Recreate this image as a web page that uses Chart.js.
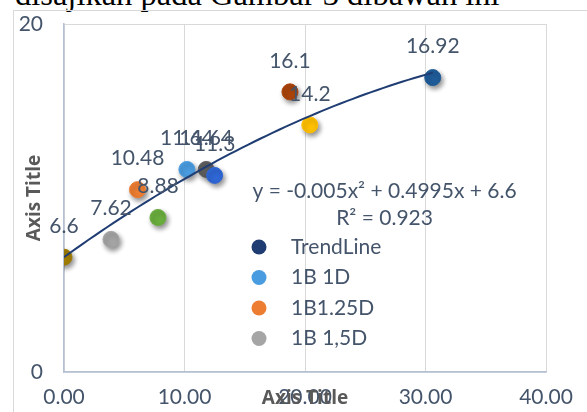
<!DOCTYPE html>
<html>
<head>
<meta charset="utf-8">
<script src="https://cdn.jsdelivr.net/npm/chart.js@4.4.1/dist/chart.umd.min.js"></script>
<style>
  html, body { margin: 0; padding: 0; background: #fff; width: 587px; height: 412px; overflow: hidden; }
  #wrap { position: relative; width: 587px; height: 412px; overflow: hidden; }
  #caption { position: absolute; left: 15px; top: -24px; font-family: "Liberation Serif", serif; font-size: 32.5px; line-height: 36px; color: #000; white-space: nowrap; }
  #frame { position: absolute; left: 13px; top: 10px; width: 700px; height: 500px; border-left: 1px solid #D9D9D9; border-top: 1px solid #D9D9D9; box-sizing: border-box; }
  canvas { position: absolute; left: 0; top: 0; }
</style>
</head>
<body>
<div id="wrap">
  <div id="caption">disajikan pada Gambar 3 dibawah ini</div>
  <div id="frame"></div>
  <canvas id="c" width="587" height="412"></canvas>
</div>
<script>
// Measured points (x, y) and their marker colours
const xValues = [0, 3.9, 6.1, 7.8, 10.2, 11.8, 12.5, 18.75, 20.4, 30.6];
const yValues = [6.6, 7.62, 10.48, 8.88, 11.64, 11.64, 11.3, 16.1, 14.2, 16.92];
const pointColors = ['#A07C00', '#A5A5A5', '#ED7D31', '#6AAE3E', '#4A9CE0', '#5E5E5E', '#2F67D6', '#A9430A', '#FFC000', '#1F5C99'];

// Polynomial trendline: y = a x^2 + b x + c
const trendCoef = [-0.005, 0.4995, 6.6];
const trendRange = [0, 30.6];
const trendText = ['y = -0.005x\u00B2 + 0.4995x + 6.6', 'R\u00B2 = 0.923'];

// Legend entries
const legendNames = ['TrendLine', '1B 1D', '1B1.25D', '1B 1,5D'];
const legendColors = ['#1F3D73', '#4A9CE0', '#ED7D31', '#A5A5A5'];

// Axes
const xTicks = [0, 10, 20, 30, 40];
const yTicks = [0, 20];
const xTitle = 'Axis Title';
const yTitle = 'Axis Title';

const FONT = 'Lato, "Open Sans", sans-serif';
const TITLE_FONT = '"Open Sans", "Noto Sans", sans-serif';
const TEXT = '#44546A';

const scatterPoints = xValues.map((x, i) => ({ x, y: yValues[i] }));

// Trendline drawn from the fitted equation
const trendPoints = [];
for (let k = 0; k <= 60; k++) {
  const x = trendRange[0] + (trendRange[1] - trendRange[0]) * k / 60;
  trendPoints.push({ x, y: trendCoef[0] * x * x + trendCoef[1] * x + trendCoef[2] });
}

const shadowPlugin = {
  id: 'markerShadow',
  beforeDatasetDraw(chart, args) {
    if (args.index !== 1) return;
    const ctx = chart.ctx;
    ctx.save();
    ctx.shadowColor = 'rgba(0,0,0,0.45)';
    ctx.shadowBlur = 5;
    ctx.shadowOffsetX = 2;
    ctx.shadowOffsetY = 3;
  },
  afterDatasetDraw(chart, args) {
    if (args.index !== 1) return;
    chart.ctx.restore();
  }
};

const overlayPlugin = {
  id: 'overlay',
  afterDatasetsDraw(chart) {
    const ctx = chart.ctx;
    const area = chart.chartArea;
    const meta = chart.getDatasetMeta(1);
    ctx.save();
    ctx.font = '21px ' + FONT;
    ctx.fillStyle = TEXT;
    ctx.textAlign = 'center';
    ctx.textBaseline = 'middle';
    // value labels above each marker
    meta.data.forEach((pt, i) => {
      ctx.fillText(String(yValues[i]), pt.x, pt.y - 31);
    });
    // trendline equation
    const cx = area.left + (area.right - area.left) * 0.665;
    ctx.fillText(trendText[0], cx, area.top + 167);
    ctx.fillText(trendText[1], cx, area.top + 194);
    // legend
    legendNames.forEach((name, i) => {
      const y = area.top + 223 + i * 30.5;
      ctx.beginPath();
      ctx.arc(area.left + 195, y, 7.5, 0, Math.PI * 2);
      ctx.fillStyle = legendColors[i];
      ctx.fill();
      ctx.fillStyle = TEXT;
      ctx.textAlign = 'left';
      ctx.fillText(name, area.left + 227, y);
    });
    // axis titles
    ctx.font = 'bold 19px ' + TITLE_FONT;
    ctx.fillStyle = '#595959';
    ctx.textAlign = 'center';
    ctx.fillText(xTitle, (area.left + area.right) / 2, area.bottom + 27);
    ctx.translate(35, (area.top + area.bottom) / 2);
    ctx.rotate(-Math.PI / 2);
    ctx.fillText(yTitle, 0, 0);
    ctx.restore();
  }
};

new Chart(document.getElementById('c'), {
  data: {
    datasets: [
      {
        type: 'line',
        label: legendNames[0],
        data: trendPoints,
        borderColor: '#1F3D73',
        borderWidth: 2,
        pointRadius: 0,
        fill: false,
        tension: 0,
        order: 0
      },
      {
        type: 'scatter',
        label: 'points',
        data: scatterPoints,
        backgroundColor: pointColors,
        borderColor: pointColors,
        borderWidth: 1,
        pointRadius: 8,
        order: 1
      }
    ]
  },
  options: {
    responsive: false,
    animation: false,
    devicePixelRatio: 1,
    layout: { padding: { top: 24, right: 41, left: 0, bottom: 0 } },
    plugins: { legend: { display: false }, tooltip: { enabled: false } },
    scales: {
      x: {
        type: 'linear',
        min: xTicks[0],
        max: xTicks[xTicks.length - 1],
        afterBuildTicks(scale) { scale.ticks = xTicks.map(v => ({ value: v })); },
        afterFit(scale) { scale.height = 40; scale.paddingLeft = 0; scale.paddingRight = 0; },
        ticks: {
          padding: 13,
          color: TEXT,
          font: { family: FONT, size: 21 },
          callback: v => Number(v).toFixed(2),
          maxRotation: 0
        },
        grid: { color: '#D9D9D9', lineWidth: 1, drawTicks: false },
        border: { color: '#B4C0D4', width: 1.5 }
      },
      y: {
        type: 'linear',
        min: yTicks[0],
        max: yTicks[yTicks.length - 1],
        afterBuildTicks(scale) { scale.ticks = yTicks.map(v => ({ value: v })); },
        afterFit(scale) { scale.width = 64; scale.paddingTop = 0; scale.paddingBottom = 0; },
        ticks: {
          padding: 21,
          color: TEXT,
          font: { family: FONT, size: 21 }
        },
        grid: { color: '#D9D9D9', lineWidth: 1, drawTicks: false },
        border: { color: '#B4C0D4', width: 1.5 }
      }
    }
  },
  plugins: [shadowPlugin, overlayPlugin]
});
</script>
</body>
</html>
